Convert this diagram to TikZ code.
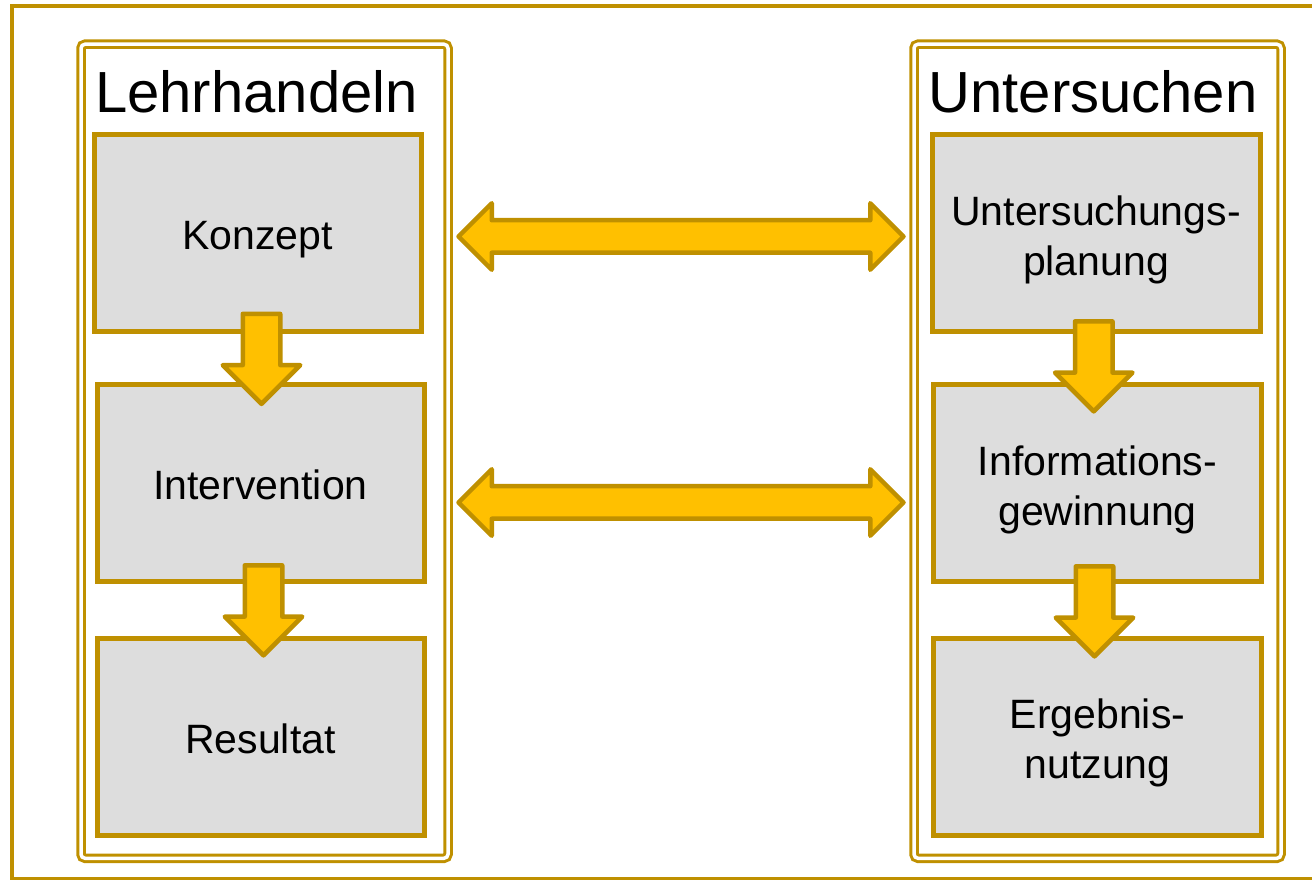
\documentclass[tikz,border=0pt]{standalone}
\usepackage{fontspec}
\setmainfont{Liberation Sans}
\usetikzlibrary{positioning,shapes.arrows,calc}
\definecolor{gold}{RGB}{191,144,0}
\definecolor{amber}{RGB}{255,192,0}
\definecolor{boxgray}{RGB}{221,221,221}
\newcommand{\linestrut}{\rule[-9pt]{0pt}{51pt}}

\begin{document}
\begin{tikzpicture}[
    x=1pt, y=1pt,
    node distance=53pt,
    colframe/.style={rectangle, draw=gold, double=white, double distance=3.5pt,
      line width=3pt, rounded corners=4pt, outer sep=0pt,
      minimum width=367pt, minimum height=814pt},
    coltitle/.style={anchor=base, font=\fontsize{58}{64}\selectfont},
    block/.style={rectangle, draw=gold, fill=boxgray, line width=5pt, outer sep=0pt,
      minimum width=327pt, minimum height=197pt, align=center,
      font=\fontsize{41}{50}\selectfont},
    downarrow/.style={single arrow, draw=gold, fill=amber, line width=4.5pt,
      line join=round, rotate=-90, inner sep=16.5pt, single arrow head extend=20pt,
      minimum width=73pt, minimum height=90pt},
    twoway/.style={double arrow, draw=gold, fill=amber, line width=4.5pt,
      line join=round, inner sep=14pt, double arrow head extend=17pt,
      minimum width=62pt, minimum height=445pt}
  ]
    \useasboundingbox (0,0) rectangle (1312,879);
    \draw[gold, line width=4pt] (12,873) rectangle (1320,0);

    % the two columns
    \node[colframe] (leftcol)  at (264.5,427.75)  {};
    \node[colframe] (rightcol) at (1097.5,427.75) {};
    \node[coltitle] (lehr)   at ($(leftcol.north)+(-8,-68)$)    {Lehrhandeln};
    \node[coltitle] (unters) at ($(rightcol.north)+(-4.5,-68)$) {Untersuchen};

    \node[block] (konzept) at (257.5,645.5) {\linestrut Konzept};
    \node[block, below=of konzept, xshift=3pt]           (intervention) {\linestrut Intervention};
    \node[block, below=56pt of intervention]             (resultat)     {\linestrut Resultat};

    \node[block, minimum width=328pt] (planung) at (1096,645.5) {\linestrut Untersuchungs-\\planung};
    \node[block, minimum width=328pt, below=of planung, xshift=1.5pt] (gewinnung) {\linestrut Informations-\\gewinnung};
    \node[block, minimum width=328pt, below=56pt of gewinnung]        (nutzung)   {\linestrut Ergebnis-\\nutzung};

    % flow inside the columns
    \node[downarrow] (k2i) at ($(konzept.south)!0.5!(intervention.north)+(2.5,9)$) {};
    \node[downarrow] (i2r) at ($(intervention.south)!0.5!(resultat.north)+(3,9)$) {};
    \node[downarrow] (p2g) at ($(planung.south)!0.5!(gewinnung.north)+(-3,1.5)$) {};
    \node[downarrow] (g2n) at ($(gewinnung.south)!0.5!(nutzung.north)+(-3,8)$) {};

    % links between the columns
    \node[twoway] (top) at ($(leftcol.east |- konzept)!0.5!(rightcol.west |- konzept)+(0,-3)$) {};
    \node[twoway] (mid) at ($(leftcol.east |- intervention)!0.5!(rightcol.west |- intervention)+(0,-19)$) {};
  \end{tikzpicture}
\end{document}
